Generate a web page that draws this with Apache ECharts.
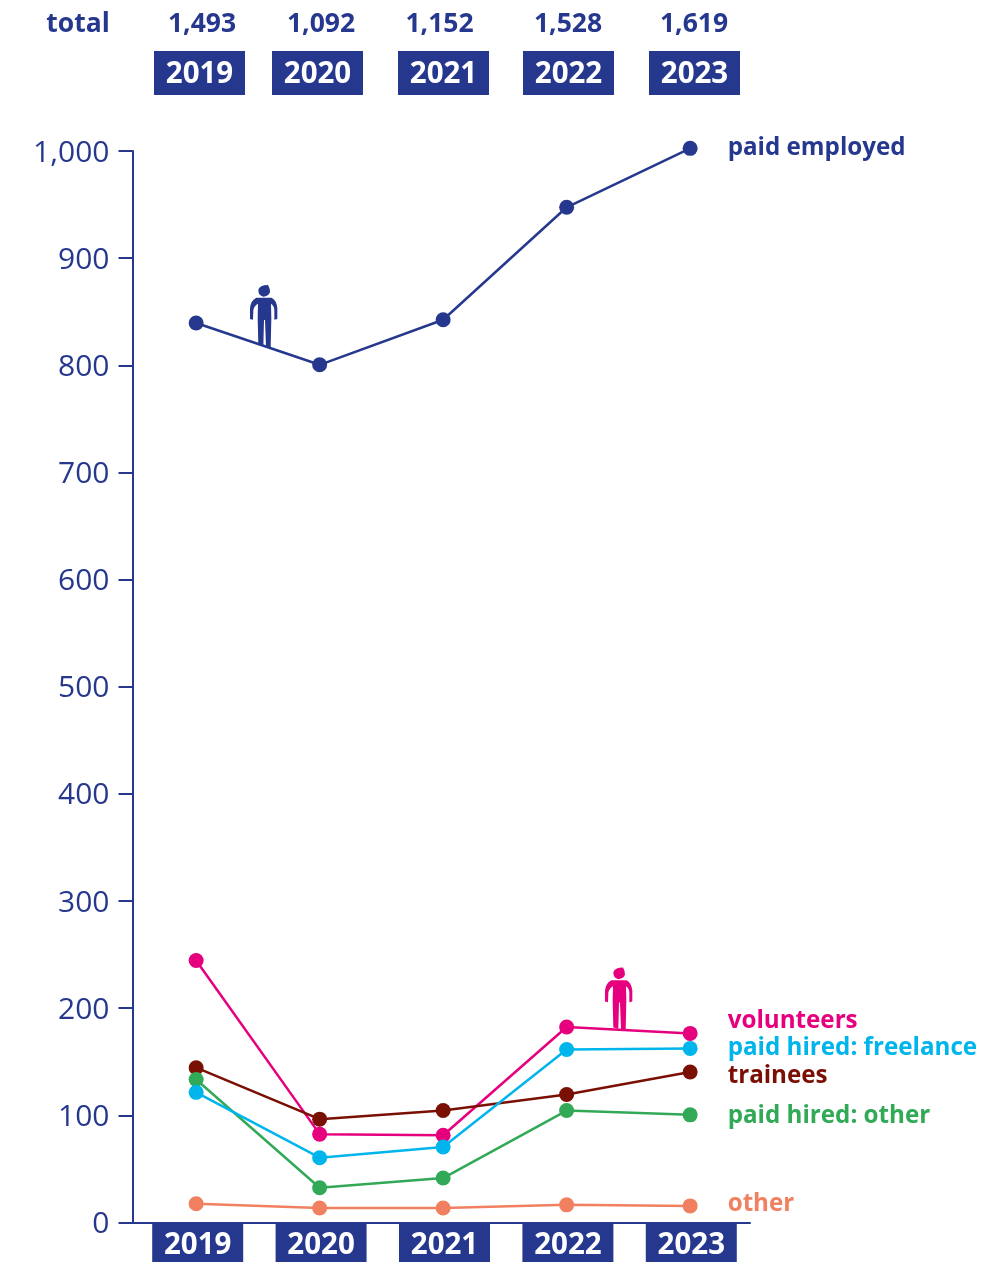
<!DOCTYPE html>
<html>
<head>
<meta charset="utf-8">
<style>html,body{margin:0;padding:0;background:#fff}#chart{width:993px;height:1262px}</style>
<script src="https://cdn.jsdelivr.net/npm/echarts@6/dist/echarts.min.js"></script>
</head>
<body>
<div id="chart"></div>
<script>
// Workforce per year by type of engagement
const years = ['2019', '2020', '2021', '2022', '2023'];
const totals = ['1,493', '1,092', '1,152', '1,528', '1,619'];

const paidEmployed = [839, 800, 842, 947, 1002];
const volunteers = [244, 82, 81, 182, 176];
const trainees = [144, 96, 104, 119, 140];
const paidHiredOther = [133, 32, 41, 104, 100];
const paidHiredFreelance = [121, 60, 70, 161, 162];
const other = [17, 13, 13, 16, 15];

const NAVY = '#26388e';
const FONT = '"Open Sans", "Noto Sans", sans-serif';

// Header row layout (centres of the total figures and year boxes)
const totalCentres = [202, 321, 439.5, 568, 694];
const boxCentres = [199.5, 317.5, 443.5, 568.5, 694.5];

const personBody = 'M64 68Q47 76 45 100L45 132L54 134L55 106Q57 92 69 86L68 130L70 210L85 214L87 135L90 135L93 216L107 218L109 130L108 86Q118 92 118 106L118 134L127 132L127 100Q125 76 110 68Z';
const personHead = 'M70 46Q71 35 88 31L99 30Q106 42 105 52Q99 65 85 65Q70 62 70 46Z';
echarts.graphic.registerShape('person', echarts.graphic.extendPath(personBody + personHead, {}));

function person(x, y, color) {
  return {
    type: 'person', x, y, scaleX: 1 / 3, scaleY: 1 / 3, z: 5,
    style: { fill: color }
  };
}

function line(name, data, color, dy) {
  return {
    name, type: 'line', data, xAxisIndex: 0, yAxisIndex: 0,
    clip: false, animation: false, silent: true,
    symbol: 'circle', symbolSize: 15,
    lineStyle: { color, width: 2.5 },
    itemStyle: { color },
    endLabel: {
      show: true, formatter: name, color, fontFamily: FONT,
      fontWeight: 'bold', fontSize: 24.2, distance: 37.5, offset: [0, dy]
    }
  };
}

const graphic = [
  { type: 'text', x: 78, y: 24, style: { text: 'total', fill: NAVY, font: 'bold 26.5px ' + FONT, textAlign: 'center', textVerticalAlign: 'middle' } },
  person(235, 275, NAVY),
  person(590, 957.5, '#e6007e')
];
totals.forEach((t, i) => graphic.push({
  type: 'text', x: totalCentres[i], y: 24,
  style: { text: t, fill: NAVY, font: 'bold 26.5px ' + FONT, textAlign: 'center', textVerticalAlign: 'middle' }
}));
years.forEach((y, i) => {
  graphic.push({ type: 'rect', shape: { x: boxCentres[i] - 45.5, y: 51, width: 91, height: 44 }, style: { fill: NAVY } });
  graphic.push({
    type: 'text', x: boxCentres[i], y: 75, z: 3,
    style: { text: y, fill: '#fff', font: 'bold 29.5px ' + FONT, textAlign: 'center', textVerticalAlign: 'middle' }
  });
});

const chart = echarts.init(document.getElementById('chart'), null, { renderer: 'canvas' });
chart.setOption({
  animation: false,
  backgroundColor: '#fff',
  graphic,
  grid: [
    // plotted lines
    { left: 134.4, width: 617.5, top: 150.5, bottom: 40 },
    // value axis and baseline
    { left: 132.5, width: 617.5, top: 151, bottom: 39.5 },
    // year boxes under the baseline
    { left: 136, width: 617, top: 151, bottom: 39.5 }
  ],
  xAxis: [
    { gridIndex: 0, type: 'category', data: years, show: false },
    { gridIndex: 1, type: 'category', data: years,
      axisLine: { show: true, lineStyle: { color: NAVY, width: 2 } },
      axisTick: { show: false }, axisLabel: { show: false } },
    { gridIndex: 2, type: 'category', data: years,
      axisLine: { show: false }, axisTick: { show: false },
      axisLabel: {
        interval: 0, margin: 1, color: '#fff', fontFamily: FONT, fontWeight: 'bold', fontSize: 29.5,
        backgroundColor: NAVY, width: 91, height: 32, lineHeight: 32, padding: [8, 0, 0, 0], align: 'center'
      } }
  ],
  yAxis: [
    { gridIndex: 0, type: 'value', min: 0, max: 1000, show: false },
    { gridIndex: 1, type: 'value', min: 0, max: 1000, interval: 100,
      splitLine: { show: false },
      axisLine: { show: true, lineStyle: { color: NAVY, width: 2 } },
      axisTick: { show: true, length: 14, lineStyle: { color: NAVY, width: 2 } },
      axisLabel: {
        margin: 23, color: NAVY, fontFamily: FONT, fontSize: 30, verticalAlign: 'top', lineHeight: 4,
        formatter: v => v >= 1000 ? '1,000' : String(v)
      } },
    { gridIndex: 2, type: 'value', min: 0, max: 1000, show: false }
  ],
  series: [
    line('paid employed', paidEmployed, NAVY, -0.5),
    line('volunteers', volunteers, '#e6007e', -12.5),
    line('trainees', trainees, '#7a0f03', 4.5),
    line('paid hired: other', paidHiredOther, '#32a956', 1.5),
    line('paid hired: freelance', paidHiredFreelance, '#00b5ec', -0.5),
    line('other', other, '#f08060', -1.5)
  ]
});
</script>
</body>
</html>
